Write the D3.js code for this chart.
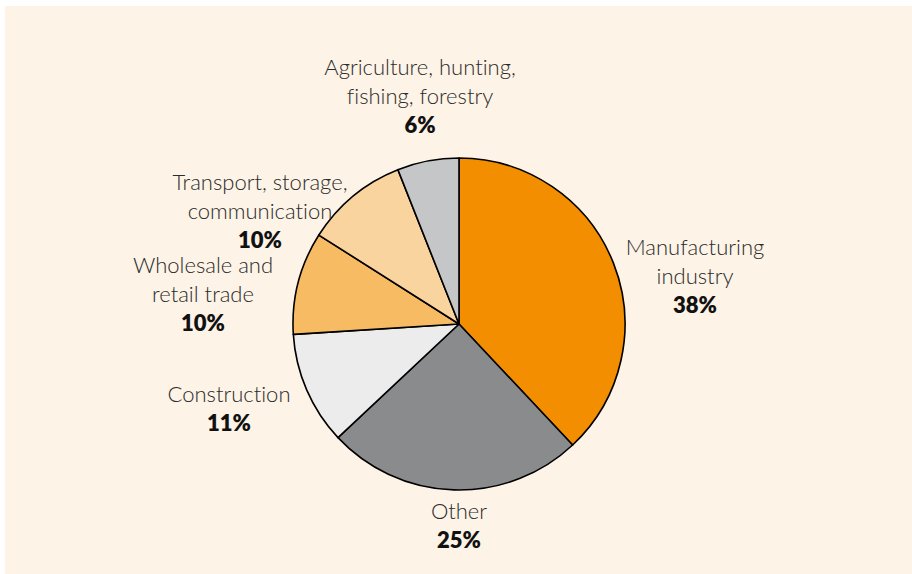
<!DOCTYPE html>
<html>
<head>
<meta charset="utf-8">
<script src="https://cdn.jsdelivr.net/npm/d3@7"></script>
<style>
  body { margin: 0; background: #fff; }
  svg { display: block; }
  .lbl { font-family: Lato, "Open Sans", sans-serif; font-weight: 300; font-size: 22px; fill: #2b2b2b; font-variant-ligatures: none; }
  .pct { font-weight: 800; fill: #111; }
</style>
</head>
<body>
<svg id="chart" width="912" height="574"></svg>
<script>
// data
var sectors = ["Manufacturing industry", "Other", "Construction",
               "Wholesale and retail trade", "Transport, storage, communication",
               "Agriculture, hunting, fishing, forestry"];
var shares = [38, 25, 11, 10, 10, 6];
// label lines as printed
var labelLines = [["Manufacturing", "industry"], ["Other"], ["Construction"],
                  ["Wholesale and", "retail trade"], ["Transport, storage,", "communication"],
                  ["Agriculture, hunting,", "fishing, forestry"]];
var colors = ["#f28e00", "#8a8b8d", "#ececec", "#f7bb64", "#f9d49e", "#c5c6c8"];

// layout (label anchor relative to pie centre, first baseline)
var labelPos = [[236, -69], [0, 195], [-230, 78], [-256, -51], [-199, -134], [-39, -249]];

var cx = 459, cy = 324, radius = 166, lineH = 28.8;

var svg = d3.select("#chart");

svg.append("rect")
    .attr("x", 5).attr("y", 6)
    .attr("width", 907).attr("height", 568)
    .attr("fill", "#fdf3e6");

var g = svg.append("g").attr("transform", "translate(" + cx + "," + cy + ")");

var pie = d3.pie().sort(null).value(function(d) { return d; });
var arc = d3.arc().innerRadius(0).outerRadius(radius);

g.selectAll(".slice")
    .data(pie(shares))
  .enter().append("path")
    .attr("class", "slice")
    .attr("d", arc)
    .attr("fill", function(d, i) { return colors[i]; })
    .attr("stroke", "#000")
    .attr("stroke-width", 1.6)
    .attr("stroke-linejoin", "round");

// labels
var labels = g.selectAll(".lbl")
    .data(sectors)
  .enter().append("text")
    .attr("class", "lbl")
    .attr("text-anchor", "middle")
    .attr("transform", function(d, i) { return "translate(" + labelPos[i][0] + "," + labelPos[i][1] + ")"; });

labels.each(function(d, i) {
  var t = d3.select(this);
  labelLines[i].forEach(function(line, k) {
    t.append("tspan").attr("x", 0).attr("y", k * lineH).text(line);
  });
  t.append("tspan").attr("class", "pct").attr("x", 0)
    .attr("y", labelLines[i].length * lineH)
    .text(shares[i] + "%");
});
</script>
</body>
</html>
